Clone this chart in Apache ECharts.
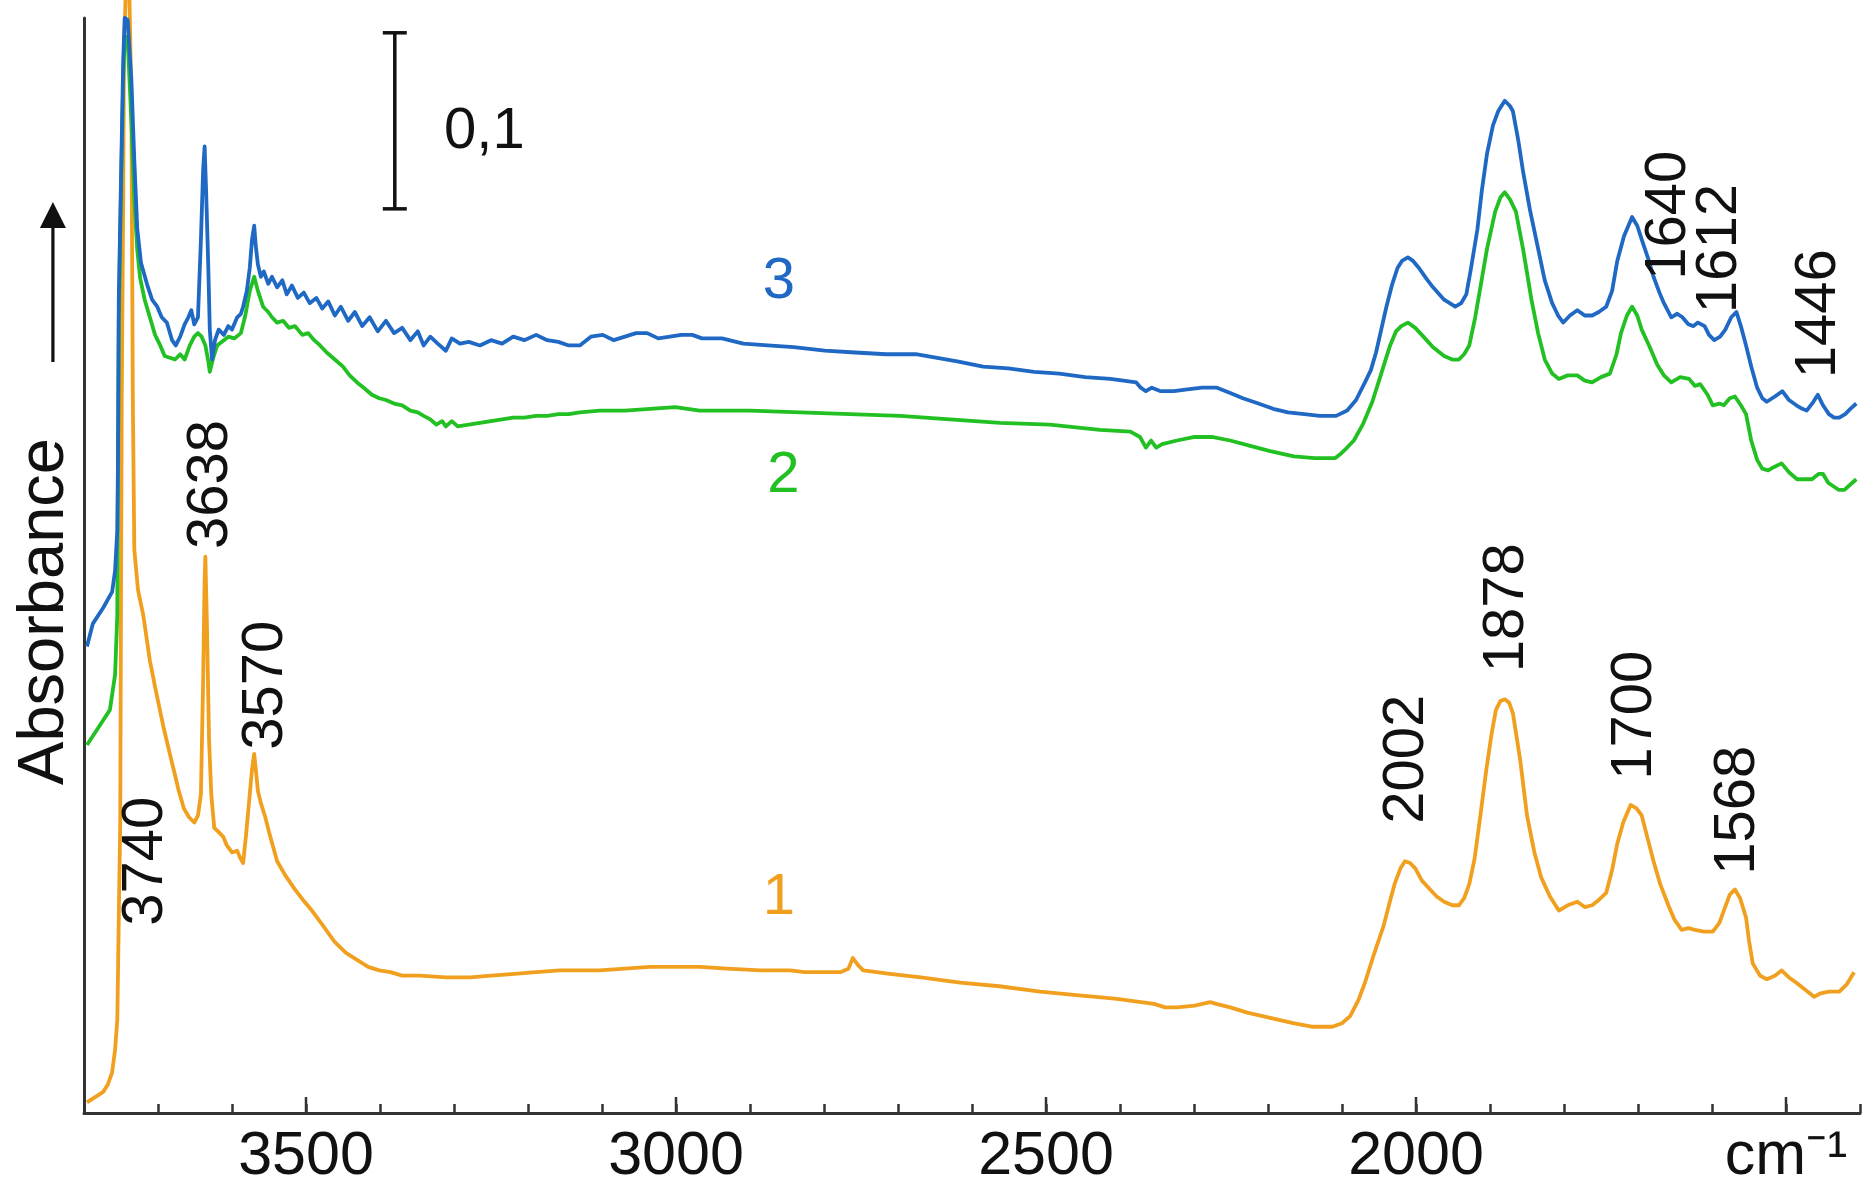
<!DOCTYPE html>
<html>
<head>
<meta charset="utf-8">
<script src="https://cdn.jsdelivr.net/npm/echarts@6/dist/echarts.min.js"></script>
<style>html,body{margin:0;padding:0;background:#fff}#c{width:1865px;height:1191px}</style>
</head>
<body>
<div id="c"></div>
<script>
// ---- data: [wavenumber cm-1, absorbance] ----
const spectrum1 = [[3796,0.006],[3785,0.009],[3774,0.012],[3768,0.016],[3762,0.023],[3758,0.036],[3755,0.053],[3754,0.081],[3753,0.111],[3751,0.166],[3750,0.291],[3749,0.405],[3747,0.519],[3746,0.604],[3743,0.644],[3739,0.644],[3736,0.575],[3735,0.490],[3734,0.405],[3732,0.320],[3727,0.297],[3720,0.283],[3711,0.257],[3703,0.240],[3693,0.220],[3684,0.204],[3677,0.192],[3672,0.183],[3665,0.173],[3658,0.168],[3651,0.165],[3646,0.169],[3642,0.181],[3639,0.246],[3637,0.303],[3636,0.316],[3634,0.280],[3631,0.212],[3628,0.181],[3624,0.162],[3619,0.160],[3612,0.157],[3607,0.152],[3600,0.148],[3593,0.149],[3589,0.145],[3585,0.142],[3581,0.158],[3576,0.181],[3573,0.195],[3570,0.204],[3568,0.196],[3565,0.183],[3561,0.176],[3555,0.168],[3549,0.158],[3539,0.143],[3528,0.135],[3515,0.127],[3504,0.121],[3492,0.115],[3478,0.107],[3461,0.097],[3446,0.091],[3431,0.087],[3416,0.083],[3401,0.081],[3386,0.080],[3370,0.078],[3346,0.078],[3311,0.077],[3278,0.077],[3250,0.078],[3218,0.079],[3189,0.080],[3157,0.081],[3130,0.081],[3103,0.081],[3069,0.082],[3035,0.083],[3008,0.083],[2968,0.083],[2931,0.082],[2886,0.081],[2846,0.081],[2826,0.080],[2805,0.080],[2778,0.080],[2767,0.082],[2761,0.088],[2754,0.084],[2747,0.081],[2711,0.079],[2669,0.077],[2616,0.074],[2563,0.072],[2508,0.069],[2459,0.067],[2407,0.065],[2354,0.062],[2339,0.060],[2323,0.060],[2299,0.061],[2278,0.063],[2270,0.062],[2251,0.060],[2228,0.057],[2197,0.054],[2166,0.051],[2141,0.049],[2113,0.049],[2100,0.051],[2089,0.055],[2078,0.064],[2069,0.074],[2057,0.090],[2044,0.106],[2036,0.119],[2029,0.130],[2021,0.139],[2015,0.143],[2008,0.142],[2001,0.139],[1992,0.132],[1981,0.127],[1972,0.123],[1962,0.120],[1951,0.118],[1942,0.118],[1935,0.122],[1928,0.130],[1921,0.144],[1913,0.169],[1905,0.195],[1898,0.215],[1892,0.229],[1886,0.234],[1880,0.235],[1874,0.233],[1869,0.227],[1859,0.200],[1850,0.169],[1840,0.148],[1831,0.134],[1819,0.123],[1807,0.115],[1795,0.118],[1782,0.120],[1772,0.117],[1762,0.118],[1753,0.121],[1743,0.125],[1735,0.138],[1728,0.153],[1720,0.165],[1710,0.175],[1702,0.173],[1695,0.169],[1687,0.156],[1679,0.143],[1670,0.130],[1659,0.118],[1651,0.110],[1641,0.104],[1632,0.105],[1623,0.104],[1611,0.103],[1599,0.103],[1590,0.108],[1584,0.115],[1576,0.124],[1569,0.127],[1562,0.122],[1554,0.111],[1550,0.098],[1545,0.085],[1535,0.078],[1526,0.076],[1515,0.078],[1506,0.081],[1496,0.077],[1486,0.074],[1474,0.070],[1462,0.066],[1453,0.068],[1442,0.069],[1428,0.069],[1418,0.073],[1408,0.080]];

const spectrum2 = [[3796,0.209],[3782,0.218],[3765,0.229],[3758,0.249],[3755,0.283],[3754,0.373],[3753,0.450],[3750,0.524],[3747,0.587],[3745,0.612],[3741,0.610],[3736,0.564],[3732,0.519],[3728,0.490],[3724,0.474],[3718,0.462],[3711,0.452],[3704,0.442],[3697,0.436],[3691,0.430],[3684,0.429],[3677,0.428],[3670,0.431],[3664,0.428],[3657,0.436],[3651,0.441],[3646,0.443],[3641,0.441],[3636,0.436],[3632,0.427],[3630,0.421],[3626,0.428],[3620,0.436],[3614,0.438],[3605,0.441],[3597,0.440],[3588,0.443],[3582,0.453],[3576,0.467],[3570,0.475],[3565,0.467],[3558,0.458],[3551,0.455],[3546,0.452],[3539,0.449],[3531,0.450],[3523,0.446],[3515,0.447],[3505,0.442],[3497,0.443],[3489,0.439],[3481,0.436],[3472,0.432],[3461,0.428],[3450,0.424],[3441,0.419],[3431,0.415],[3422,0.412],[3411,0.408],[3401,0.406],[3392,0.405],[3381,0.403],[3370,0.402],[3359,0.399],[3349,0.398],[3341,0.396],[3332,0.394],[3324,0.391],[3316,0.393],[3311,0.390],[3303,0.393],[3295,0.390],[3280,0.391],[3265,0.392],[3250,0.393],[3235,0.394],[3220,0.395],[3205,0.395],[3189,0.396],[3174,0.396],[3159,0.397],[3145,0.397],[3130,0.398],[3103,0.399],[3069,0.399],[3035,0.400],[3001,0.401],[2968,0.399],[2900,0.399],[2832,0.398],[2765,0.397],[2697,0.396],[2630,0.394],[2562,0.392],[2495,0.391],[2427,0.388],[2386,0.387],[2373,0.384],[2365,0.378],[2358,0.382],[2351,0.378],[2343,0.380],[2323,0.382],[2299,0.384],[2276,0.384],[2251,0.382],[2224,0.379],[2197,0.376],[2165,0.373],[2137,0.372],[2109,0.372],[2103,0.374],[2093,0.378],[2084,0.382],[2072,0.391],[2059,0.404],[2047,0.420],[2035,0.436],[2027,0.444],[2020,0.447],[2011,0.449],[2001,0.446],[1990,0.441],[1977,0.435],[1962,0.430],[1951,0.428],[1942,0.428],[1935,0.431],[1928,0.436],[1920,0.452],[1913,0.469],[1904,0.491],[1893,0.512],[1886,0.520],[1880,0.523],[1873,0.519],[1865,0.512],[1855,0.490],[1844,0.462],[1835,0.443],[1826,0.428],[1816,0.420],[1807,0.417],[1795,0.419],[1782,0.419],[1772,0.416],[1762,0.415],[1750,0.418],[1738,0.420],[1729,0.431],[1723,0.443],[1715,0.453],[1708,0.458],[1701,0.453],[1695,0.445],[1684,0.435],[1674,0.425],[1665,0.419],[1655,0.415],[1643,0.418],[1631,0.417],[1623,0.413],[1616,0.414],[1606,0.408],[1599,0.402],[1590,0.403],[1584,0.402],[1576,0.406],[1569,0.407],[1561,0.402],[1554,0.397],[1547,0.382],[1539,0.371],[1532,0.366],[1524,0.365],[1516,0.367],[1506,0.369],[1496,0.364],[1485,0.360],[1474,0.360],[1465,0.360],[1456,0.363],[1450,0.363],[1443,0.358],[1436,0.356],[1429,0.354],[1421,0.354],[1413,0.357],[1405,0.360]];

const spectrum3 = [[3796,0.265],[3788,0.278],[3774,0.287],[3762,0.296],[3758,0.308],[3755,0.331],[3754,0.373],[3753,0.462],[3750,0.530],[3747,0.598],[3745,0.622],[3741,0.621],[3736,0.587],[3732,0.541],[3728,0.502],[3723,0.483],[3715,0.471],[3708,0.462],[3701,0.458],[3695,0.452],[3688,0.449],[3681,0.439],[3676,0.436],[3670,0.441],[3664,0.448],[3659,0.452],[3655,0.456],[3651,0.448],[3646,0.452],[3642,0.496],[3639,0.536],[3637,0.549],[3635,0.524],[3632,0.480],[3630,0.445],[3627,0.428],[3623,0.439],[3618,0.445],[3611,0.442],[3605,0.447],[3600,0.445],[3593,0.452],[3588,0.454],[3585,0.458],[3580,0.467],[3576,0.480],[3573,0.496],[3570,0.504],[3568,0.493],[3565,0.482],[3561,0.475],[3557,0.478],[3551,0.471],[3546,0.475],[3539,0.469],[3532,0.473],[3526,0.465],[3519,0.470],[3511,0.463],[3503,0.466],[3495,0.460],[3486,0.463],[3478,0.457],[3470,0.461],[3461,0.453],[3453,0.458],[3443,0.450],[3434,0.455],[3424,0.447],[3414,0.452],[3403,0.444],[3392,0.450],[3381,0.443],[3370,0.446],[3359,0.439],[3349,0.444],[3341,0.436],[3332,0.441],[3322,0.437],[3311,0.433],[3303,0.440],[3292,0.437],[3280,0.438],[3265,0.436],[3250,0.439],[3235,0.437],[3220,0.441],[3205,0.439],[3189,0.442],[3174,0.439],[3159,0.438],[3145,0.436],[3130,0.436],[3115,0.441],[3099,0.442],[3084,0.439],[3069,0.441],[3054,0.443],[3039,0.443],[3024,0.440],[3008,0.441],[2993,0.442],[2978,0.442],[2965,0.440],[2938,0.440],[2909,0.437],[2876,0.436],[2841,0.435],[2799,0.433],[2758,0.432],[2716,0.431],[2676,0.431],[2647,0.429],[2620,0.427],[2585,0.424],[2551,0.423],[2516,0.421],[2482,0.420],[2447,0.418],[2413,0.417],[2378,0.415],[2372,0.412],[2365,0.410],[2357,0.412],[2345,0.410],[2327,0.410],[2309,0.411],[2289,0.412],[2269,0.412],[2251,0.409],[2234,0.406],[2213,0.403],[2193,0.400],[2173,0.398],[2151,0.397],[2130,0.396],[2108,0.396],[2093,0.399],[2081,0.405],[2069,0.415],[2061,0.422],[2054,0.432],[2047,0.445],[2040,0.458],[2032,0.471],[2025,0.480],[2019,0.484],[2011,0.486],[2004,0.484],[1996,0.480],[1986,0.474],[1977,0.469],[1962,0.462],[1947,0.458],[1939,0.460],[1932,0.465],[1926,0.479],[1917,0.502],[1911,0.524],[1904,0.545],[1896,0.561],[1889,0.569],[1880,0.575],[1873,0.572],[1869,0.569],[1862,0.553],[1855,0.534],[1846,0.513],[1835,0.491],[1826,0.473],[1816,0.460],[1808,0.453],[1801,0.449],[1792,0.453],[1782,0.456],[1772,0.453],[1762,0.453],[1753,0.455],[1743,0.458],[1735,0.467],[1728,0.484],[1719,0.498],[1708,0.509],[1701,0.504],[1694,0.495],[1686,0.485],[1679,0.475],[1671,0.466],[1665,0.460],[1655,0.452],[1647,0.454],[1640,0.452],[1632,0.448],[1625,0.447],[1619,0.449],[1610,0.447],[1604,0.442],[1597,0.439],[1589,0.441],[1582,0.445],[1574,0.452],[1567,0.455],[1561,0.447],[1554,0.436],[1547,0.424],[1539,0.412],[1532,0.406],[1526,0.404],[1515,0.407],[1505,0.410],[1496,0.405],[1486,0.402],[1478,0.400],[1472,0.399],[1463,0.404],[1457,0.408],[1450,0.402],[1442,0.397],[1435,0.395],[1428,0.395],[1420,0.397],[1413,0.400],[1405,0.403]];

// peak annotations: [wavenumber, absorbance (label centre), text]
const peakLabels = [[3716,0.143,'3740'],[3628,0.357,'3638'],[3554,0.243,'3570'],[2012,0.201,'2002'],[1877,0.287,'1878'],[1704,0.226,'1700'],[1565,0.172,'1568'],[1658,0.510,'1640'],[1589,0.491,'1612'],[1455,0.454,'1446']];
// curve numbers: [wavenumber, absorbance, text]
const curveLabels = [[2861,0.122,'1'],[2855,0.362,'2'],[2861,0.472,'3']];
// scale bar of 0.1 absorbance units
const scaleBar = [[3380,0.5136],[3380,0.6136]];
const scaleBarLabel = [[3259,0.557,'0,1']];
// direction arrow beside the axis title (centre point)
const arrowCentre = [3842,0.472];
// x tick labels
const majorTicks = [3500,3000,2500,2000,1500];
const tickText = {3500:'3500',3000:'3000',2500:'2500',2000:'2000',1500:'cm⁻¹'};

const COLORS = {s1:'#f0a01e', s2:'#22c022', s3:'#1f68c4'};
const FONT = '"Liberation Sans", Arial, sans-serif';

const chart = echarts.init(document.getElementById('c'));
function textSeries(arr, color, rotate){
  return {
    type:'scatter', clip:false, silent:true, symbolSize:1, z:5,
    itemStyle:{color:'rgba(0,0,0,0)', opacity:1},
    data: arr.map(d=>({value:[d[0],d[1]], name:d[2]})),
    label:{show:true, position:'inside', formatter:'{b}', rotate:rotate, fontSize:58,
           fontFamily:FONT, color:color, opacity:1}
  };
}
const lineStyleBase = {width:3.8, join:'round'};
chart.setOption({
  animation:false,
  backgroundColor:'#fff',
  grid:{left:84, right:5, top:18, bottom:78, containLabel:false, outerBoundsMode:'none'},
  xAxis:{
    type:'value', inverse:true, min:1400, max:3800, interval:100,
    axisLine:{lineStyle:{color:'#333', width:3}},
    axisTick:{inside:true, length:9, lineStyle:{color:'#333', width:2.5}},
    splitLine:{show:false},
    axisLabel:{
      fontSize:61, color:'#111', fontFamily:FONT, margin:14,
      formatter:v => tickText[v] || ''
    }
  },
  yAxis:{
    type:'value', min:0, max:0.622,
    axisLine:{show:true, lineStyle:{color:'#333', width:3}},
    axisTick:{show:false}, axisLabel:{show:false}, splitLine:{show:false},
    name:'Absorbance', nameLocation:'middle', nameRotate:90, nameGap:6,
    nameTextStyle:{fontSize:65, color:'#111', fontFamily:FONT, padding:[0,92,0,0]}
  },
  series:[
    {type:'line', data:spectrum1, showSymbol:false, clip:false, lineStyle:Object.assign({color:COLORS.s1}, lineStyleBase), itemStyle:{color:COLORS.s1}, z:2},
    {type:'line', data:spectrum2, showSymbol:false, lineStyle:Object.assign({color:COLORS.s2}, lineStyleBase), itemStyle:{color:COLORS.s2}, z:3},
    {type:'line', data:spectrum3, showSymbol:false, lineStyle:Object.assign({color:COLORS.s3}, lineStyleBase), itemStyle:{color:COLORS.s3}, z:4},
    {type:'scatter', silent:true, clip:false, data:majorTicks.map(v=>[v,0]), symbol:'rect', symbolSize:[2.5,16], symbolOffset:[0,-8], itemStyle:{color:'#333', opacity:1}, z:6},
    {type:'line', data:scaleBar, showSymbol:true, symbol:'rect', symbolSize:[24,3.5], lineStyle:{color:'#111', width:3.5}, itemStyle:{color:'#111'}, z:6},
    {type:'scatter', silent:true, clip:false, data:[arrowCentre],
     symbol:'path://M13,0 L26,26 L14.6,26 L14.6,160 L11.4,160 L11.4,26 L0,26 Z', symbolSize:[26,160],
     itemStyle:{color:'#111', opacity:1}, z:6},
    textSeries(peakLabels, '#111', 90),
    textSeries(scaleBarLabel, '#111', 0),
    textSeries([curveLabels[0]], COLORS.s1, 0),
    textSeries([curveLabels[1]], COLORS.s2, 0),
    textSeries([curveLabels[2]], COLORS.s3, 0)
  ]
});
</script>
</body>
</html>
